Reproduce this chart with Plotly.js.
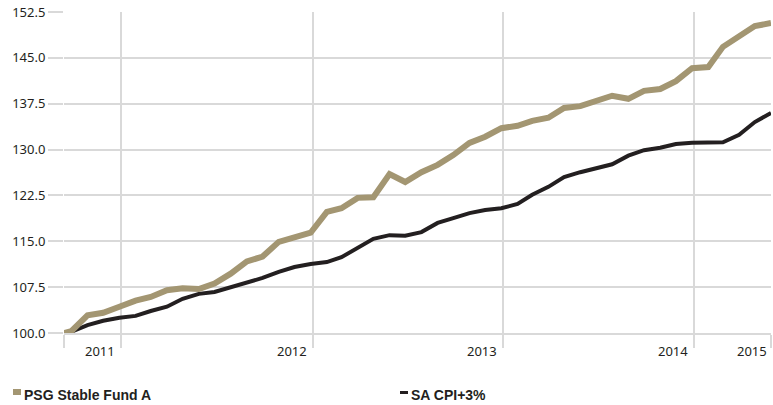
<!DOCTYPE html>
<html>
<head>
<meta charset="utf-8">
<script src="https://cdn.plot.ly/plotly-3.0.1.min.js"></script>
<style>html,body{margin:0;padding:0;background:#fff;}#chart{width:773px;height:405px;}</style>
</head>
<body>
<div id="chart"></div>
<script>
// ---- data ----
const dates = ['2011-09-16','2011-09-30','2011-10-31','2011-11-30','2011-12-31',
  '2012-01-31','2012-02-29','2012-03-31','2012-04-30','2012-05-31','2012-06-30','2012-07-31','2012-08-31','2012-09-30','2012-10-31','2012-11-30','2012-12-31',
  '2013-01-31','2013-02-28','2013-03-31','2013-04-30','2013-05-31','2013-06-30','2013-07-31','2013-08-31','2013-09-30','2013-10-31','2013-11-30','2013-12-31',
  '2014-01-31','2014-02-28','2014-03-31','2014-04-30','2014-05-31','2014-06-30','2014-07-31','2014-08-31','2014-09-30','2014-10-31','2014-11-30','2014-12-31',
  '2015-01-31','2015-02-28','2015-03-31','2015-04-30','2015-05-31'];
const psgStableFundA = [100.0,100.3,102.9,103.3,104.3,105.3,105.9,107.0,107.3,107.2,108.1,109.7,111.7,112.5,114.9,115.7,116.4,
  119.8,120.4,122.1,122.2,126.0,124.7,126.3,127.5,129.1,131.1,132.1,133.5,
  133.9,134.7,135.2,136.8,137.1,137.9,138.8,138.3,139.6,139.9,141.2,143.3,
  143.5,146.8,148.4,150.2,150.7];
const saCpiPlus3 = [100.0,100.2,101.3,102.0,102.5,102.8,103.6,104.3,105.6,106.4,106.7,107.5,108.2,109.0,110.0,110.8,111.3,
  111.6,112.4,113.9,115.4,116.0,115.9,116.5,118.0,118.8,119.6,120.1,120.4,
  121.1,122.6,123.9,125.5,126.3,127.0,127.6,129.0,129.9,130.3,130.9,131.1,
  131.2,131.2,132.4,134.5,136.0];
const seriesNames = ['PSG Stable Fund A', 'SA CPI+3%'];
const yTickVals = [100.0,107.5,115.0,122.5,130.0,137.5,145.0,152.5];
const yearLabels = ['2011','2012','2013','2014','2015'];
const yearBoundaries = ['2012-01-04','2013-01-04','2014-01-04','2015-01-04'];

// ---- styling ----
const tan = '#a39672';
const dark = '#231f20';
const grid = '#d9d9d9';
const W = 773, H = 405, mL = 64, mR = 2, mT = 12, mB = 72;
const pw = W - mL - mR, ph = H - mT - mB;
const px = x => (x - mL) / pw;
const py = y => (H - mB - y) / ph;

const xStart = dates[0], xEnd = dates[dates.length - 1];
const xTicks = [xStart].concat(yearBoundaries, [xEnd]);

const traces = [
  {x: dates, y: saCpiPlus3, name: seriesNames[1], type: 'scatter', mode: 'lines',
   line: {color: dark, width: 4}, hoverinfo: 'skip'},
  {x: dates, y: psgStableFundA, name: seriesNames[0], type: 'scatter', mode: 'lines',
   line: {color: tan, width: 6}, hoverinfo: 'skip'}
];

const labelAnchors = yearBoundaries.concat([xEnd]);
const annotations = yearLabels.map((t, i) => ({
  text: t, x: labelAnchors[i], xref: 'x', y: 0, yref: 'paper',
  xanchor: 'right', yanchor: 'top', xshift: i === yearLabels.length - 1 ? -2 : -4, yshift: -7,
  showarrow: false, font: {family: 'Noto Sans, sans-serif', size: 13, color: dark}
}));
annotations.push(
  {text: seriesNames[0], x: px(22), y: py(395), xref: 'paper', yref: 'paper', xanchor: 'left', yanchor: 'middle',
   showarrow: false, font: {family: 'Liberation Sans, Arial, sans-serif', size: 14, color: dark, weight: 'bold'}},
  {text: seriesNames[1], x: px(409), y: py(395), xref: 'paper', yref: 'paper', xanchor: 'left', yanchor: 'middle',
   showarrow: false, font: {family: 'Liberation Sans, Arial, sans-serif', size: 14, color: dark, weight: 'bold'}}
);

const shapes = [
  {type: 'rect', xref: 'paper', yref: 'paper', x0: px(13), x1: px(21), y0: py(395), y1: py(389),
   fillcolor: tan, line: {width: 0}},
  {type: 'rect', xref: 'paper', yref: 'paper', x0: px(400), x1: px(408), y0: py(394), y1: py(391),
   fillcolor: dark, line: {width: 0}}
];

const layout = {
  width: W, height: H,
  margin: {l: mL, r: mR, t: mT, b: mB, pad: 0},
  paper_bgcolor: '#fff', plot_bgcolor: '#fff',
  showlegend: false,
  xaxis: {
    type: 'date', range: [xStart, xEnd], tickvals: xTicks, showticklabels: false,
    ticks: 'outside', ticklen: 13, tickwidth: 2, tickcolor: grid,
    showgrid: true, gridcolor: grid, gridwidth: 2, zeroline: false,
    showline: true, linecolor: grid, linewidth: 2, fixedrange: true
  },
  yaxis: {
    range: [100, 152.5], tickvals: yTickVals, tickformat: '.1f',
    ticks: 'outside', ticklen: 15, tickwidth: 2, tickcolor: grid,
    showgrid: true, gridcolor: grid, gridwidth: 2, zeroline: false, showline: false,
    tickfont: {family: 'Noto Sans, sans-serif', size: 13, color: dark}, fixedrange: true
  },
  annotations: annotations,
  shapes: shapes
};

Plotly.newPlot('chart', traces, layout, {displayModeBar: false, staticPlot: true});
</script>
</body>
</html>
